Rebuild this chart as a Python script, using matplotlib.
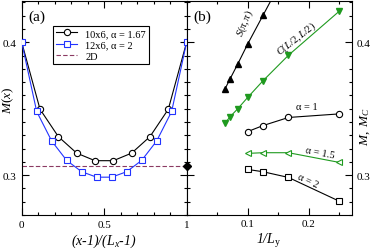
import matplotlib
matplotlib.use("Agg")
import matplotlib.pyplot as plt
import numpy as np

plt.rcParams['font.family'] = ['Liberation Serif', 'DejaVu Serif']
plt.rcParams['mathtext.fontset'] = 'custom'
plt.rcParams['mathtext.rm'] = 'Liberation Serif'
plt.rcParams['mathtext.it'] = 'Liberation Serif:italic'
plt.rcParams['mathtext.bf'] = 'Liberation Serif:bold'

# panel (a): magnetization profile
x10 = np.arange(10) / 9.0
m10 = [0.400, 0.3496, 0.3290, 0.3166, 0.3109, 0.3109, 0.3166, 0.3290, 0.3496, 0.400]
x12 = np.arange(12) / 11.0
m12 = [0.400, 0.3479, 0.3257, 0.3111, 0.3026, 0.2985, 0.2985, 0.3026, 0.3111, 0.3257, 0.3479, 0.400]
m2d = 0.307

# panel (b): finite size scaling vs 1/Ly
inv_s = [1/16, 1/14, 1/12, 1/10, 1/8, 1/6]
s_pp = [0.3646, 0.3727, 0.3833, 0.3987, 0.4202, 0.456]
inv_c = [1/16, 1/14, 1/12, 1/10, 1/8, 1/6, 1/4]
c_ll = [0.3390, 0.3441, 0.3498, 0.3585, 0.3710, 0.3902, 0.4234]
inv_a = [1/10, 1/8, 1/6, 1/4]
m_a1 = [0.3328, 0.3373, 0.3434, 0.3461]
m_a15 = [0.3164, 0.3169, 0.3169, 0.3096]
m_a2 = [0.3043, 0.3026, 0.2983, 0.2804]

green = '#1f9a1f'
blue = '#2233ff'

fig, (ax1, ax2) = plt.subplots(1, 2, figsize=(3.74, 2.53), dpi=100, sharey=True)
fig.subplots_adjust(left=0.058, right=0.940, top=0.992, bottom=0.146, wspace=0)

ax1.plot(x10, m10, '-o', color='black', mfc='white', ms=4.5, lw=0.8, mew=0.8,
         label=u'10x6, \u03b1 = 1.67', zorder=3)
ax1.plot(x12, m12, '-s', color=blue, mfc='white', ms=4.3, lw=0.8, mew=0.8,
         label=u'12x6, \u03b1 = 2', zorder=3)
ax1.axhline(m2d, color='#8b3a62', ls='--', lw=0.8, dashes=(4, 2), label='2D')
ax1.set_xlim(0, 1)
ax1.set_ylim(0.27, 0.431)
ax1.set_xticks([0, 0.5, 1])
ax1.set_xticklabels(['0', '0.5', '1'])
ax1.set_xticks(np.arange(0, 1.01, 0.1), minor=True)
ax1.set_yticks([0.3, 0.4])
ax1.set_yticklabels(['0.3', '0.4'])
ax1.set_yticks(np.arange(0.27, 0.431, 0.01), minor=True)
ax1.set_xlabel('(x-1)/(L' + r'$_x$' + '-1)', fontstyle='italic', fontsize=10, labelpad=2)
ax1.set_ylabel(r'$M(x)$', fontsize=9.5)
ax1.yaxis.set_label_coords(-0.033, 0.54)
ax1.text(0.04, 0.96, '(a)', transform=ax1.transAxes, fontsize=11, va='top')
leg = ax1.legend(loc='upper left', bbox_to_anchor=(0.19, 0.885), fontsize=7.5,
                 frameon=True, fancybox=False, edgecolor='black', framealpha=1,
                 handlelength=2.0, borderpad=0.3, labelspacing=0.2, handletextpad=0.8,
                 borderaxespad=0)
leg.get_frame().set_linewidth(0.8)

ax2.plot(inv_s, s_pp, '-^', color='black', ms=4.5, lw=0.8)
ax2.plot(inv_c, c_ll, '-v', color=green, ms=4.5, lw=0.8)
ax2.plot(inv_a, m_a1, '-o', color='black', mfc='white', ms=4.5, lw=0.8, mew=0.8)
ax2.plot(inv_a, m_a15, '-<', color=green, mfc='white', ms=4.5, lw=0.8, mew=0.8)
ax2.plot(inv_a, m_a2, '-s', color='black', mfc='white', ms=4.3, lw=0.8, mew=0.8)
ax2.plot([0], [m2d], 'D', color='black', ms=4, clip_on=False, zorder=5)
ax2.set_xlim(0, 0.27)
ax2.set_xticks([0.1, 0.2])
ax2.set_xticklabels(['0.1', '0.2'])
ax2.set_xticks(np.arange(0, 0.27, 0.05), minor=True)
ax2.set_yticks(np.arange(0.27, 0.431, 0.01), minor=True)
ax2.yaxis.set_label_position('right')
ax2.set_xlabel('1/L' + r'$_\mathrm{y}$', fontstyle='italic', fontsize=10, labelpad=2)
ax2.set_ylabel(r'$M,\ M_C$', fontsize=9.5)
ax2.yaxis.set_label_coords(1.04, 0.42)
ax2.text(0.04, 0.96, '(b)', transform=ax2.transAxes, fontsize=11, va='top')

ax2.text(0.095, 0.4146, r'$S(\pi,\pi)$', fontsize=7.5, rotation=68, ha='center', va='center')
ax2.text(0.18, 0.4033, r'$C(L/2,L/2)$', fontsize=7.5, rotation=38, ha='center', va='center')
ax2.text(0.197, 0.3515, u'\u03b1 = 1', fontsize=7.5, ha='center', va='center')
ax2.text(0.2175, 0.3175, u'\u03b1 = 1.5', fontsize=7.5, rotation=-11, ha='center', va='center')
ax2.text(0.198, 0.2965, u'\u03b1 = 2', fontsize=7.5, rotation=-25, ha='center', va='center')

for ax in (ax1, ax2):
    ax.tick_params(which='both', direction='in', top=True, left=True, right=True, labelsize=8, width=0.8)
    ax.tick_params(which='major', length=5)
    ax.tick_params(which='minor', length=2.5)
    for sp in ax.spines.values():
        sp.set_linewidth(0.8)
ax1.tick_params(axis='y', which='both', labelleft=True, labelright=False)
ax2.tick_params(axis='y', which='both', labelleft=False, labelright=True)
ax2.tick_params(axis='x', pad=3)

plt.savefig('out.png', format='png', dpi=100)
plt.close()
